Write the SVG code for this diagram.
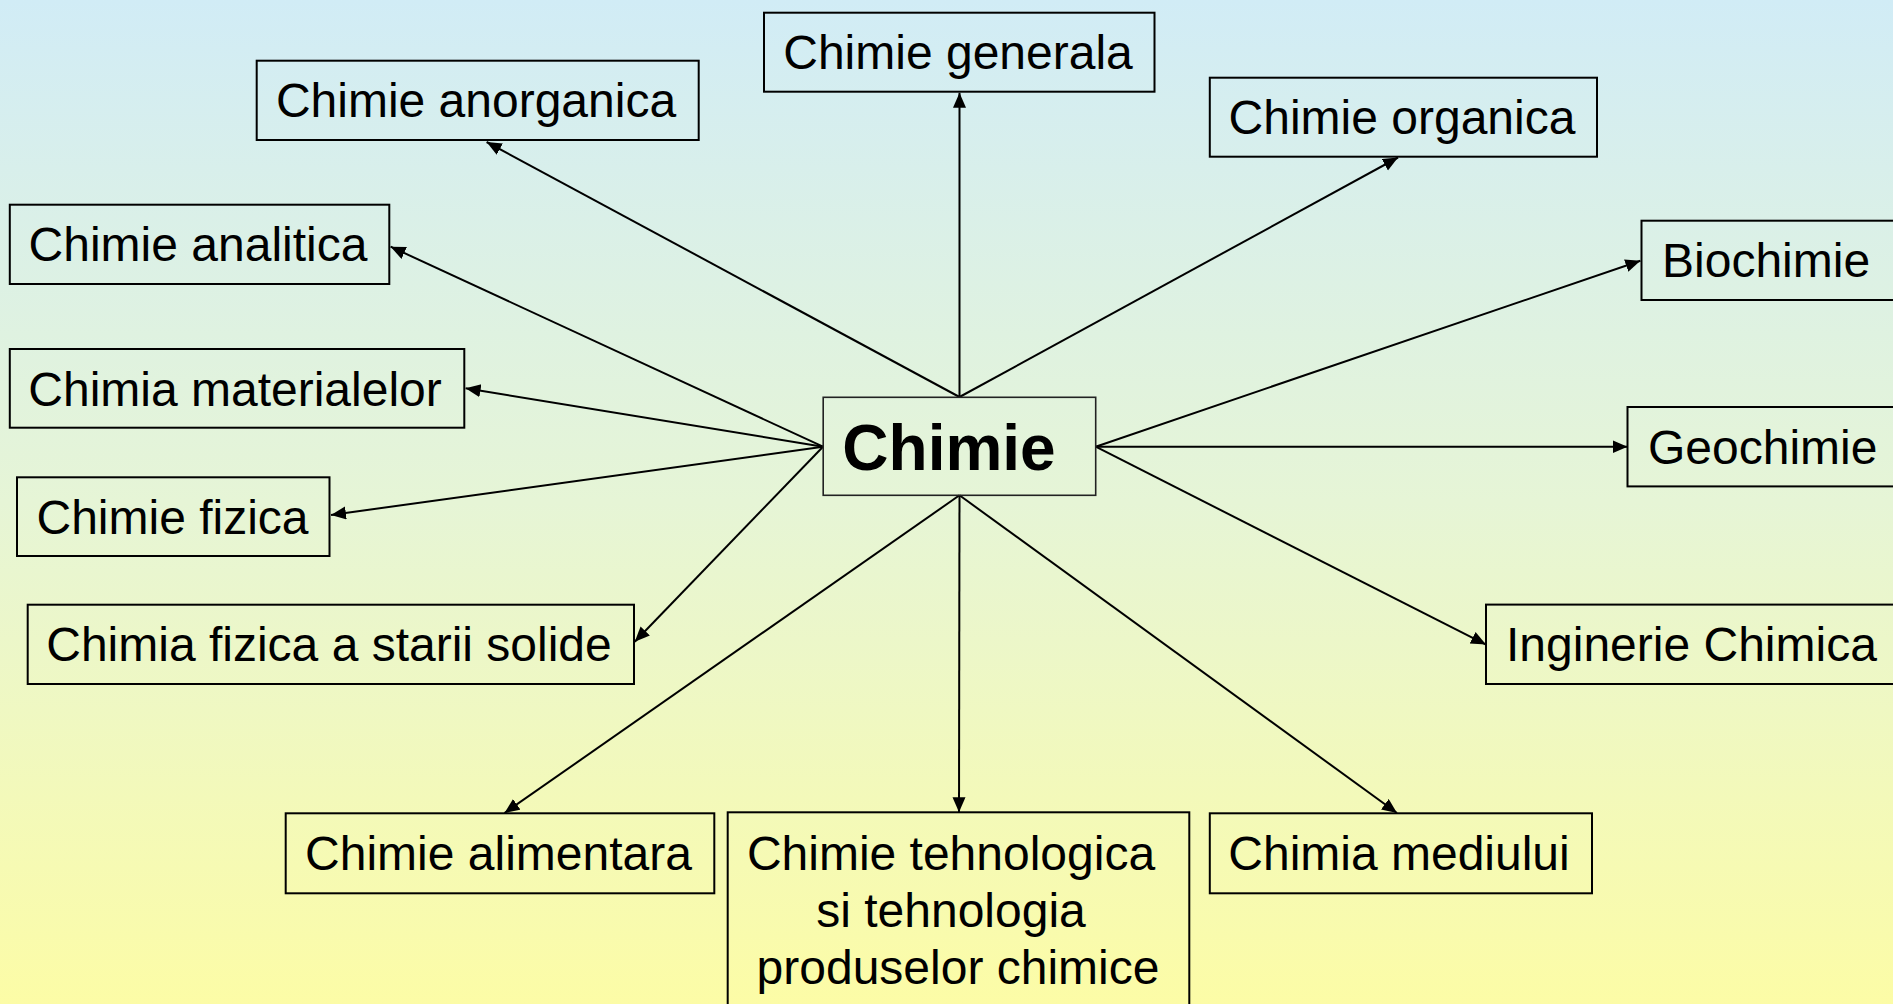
<svg xmlns="http://www.w3.org/2000/svg" width="1893" height="1004" viewBox="0 0 1893 1004">
  <defs>
    <linearGradient id="bg" x1="0" y1="0" x2="0" y2="1">
      <stop offset="0" stop-color="#d1ecf6"/>
      <stop offset="0.5" stop-color="#e6f5d6"/>
      <stop offset="1" stop-color="#fcfca6"/>
    </linearGradient>
    <marker id="arrow" markerUnits="userSpaceOnUse" markerWidth="16" markerHeight="14" refX="15" refY="6.5" orient="auto">
      <path d="M0,0 L15,6.5 L0,13 z" fill="#000"/>
    </marker>
  </defs>
  <style>
    .box { fill: none; stroke: #000; stroke-width: 2; }
    .hub { fill: none; stroke: #222; stroke-width: 1.6; }
    .lbl { font-family: "Liberation Sans", Arial, sans-serif; font-size: 48px; fill: #000; }
    .mid { text-anchor: middle; }
    .hubtxt { font-family: "Liberation Sans", Arial, sans-serif; font-size: 64px; font-weight: bold; fill: #000; text-anchor: middle; }
    .edge { stroke: #000; stroke-width: 2; fill: none; marker-end: url(#arrow); }
  </style>

  <rect x="0" y="0" width="1893" height="1004" fill="url(#bg)"/>

  <!-- connectors from the central node -->
  <g id="connectors">
    <line class="edge" x1="959.5" y1="397" x2="959.5" y2="92.7"/>
    <line class="edge" x1="959.5" y1="397" x2="486.6" y2="142"/>
    <line class="edge" x1="959.5" y1="397" x2="1398" y2="157.5"/>
    <line class="edge" x1="823" y1="446.7" x2="390.6" y2="246.7"/>
    <line class="edge" x1="823" y1="446.7" x2="465.6" y2="388.3"/>
    <line class="edge" x1="823" y1="446.7" x2="331" y2="515"/>
    <line class="edge" x1="823" y1="446.7" x2="634.8" y2="641.7"/>
    <line class="edge" x1="1095.7" y1="446.7" x2="1640.4" y2="260.7"/>
    <line class="edge" x1="1095.7" y1="446.7" x2="1627.5" y2="446.7"/>
    <line class="edge" x1="1095.7" y1="446.7" x2="1486" y2="644.6"/>
    <line class="edge" x1="959.5" y1="495.3" x2="504.5" y2="813"/>
    <line class="edge" x1="959.5" y1="495.3" x2="959" y2="812.3"/>
    <line class="edge" x1="959.5" y1="495.3" x2="1397" y2="813"/>
  </g>

  <g id="node-chimie">
    <rect class="hub" x="823.2" y="397.3" width="272.5" height="98"/>
    <text class="hubtxt" x="949" y="470">Chimie</text>
  </g>

  <g id="node-generala">
    <rect class="box" x="764" y="12.7" width="390.5" height="79"/>
    <text class="lbl mid" x="958" y="68.5">Chimie generala</text>
  </g>

  <g id="node-anorganica">
    <rect class="box" x="256.7" y="60.7" width="442" height="79.3"/>
    <text class="lbl mid" x="476" y="116.8">Chimie anorganica</text>
  </g>

  <g id="node-organica">
    <rect class="box" x="1209.8" y="77.7" width="387.2" height="79"/>
    <text class="lbl mid" x="1402" y="134">Chimie organica</text>
  </g>

  <g id="node-analitica">
    <rect class="box" x="9.8" y="204.7" width="379.5" height="79.3"/>
    <text class="lbl mid" x="198" y="261">Chimie analitica</text>
  </g>

  <g id="node-biochimie">
    <rect class="box" x="1641.5" y="220.7" width="270" height="79.3"/>
    <text class="lbl" x="1662" y="277">Biochimie</text>
  </g>

  <g id="node-materialelor">
    <rect class="box" x="9.8" y="349" width="454.5" height="78.7"/>
    <text class="lbl mid" x="235" y="405.5">Chimia materialelor</text>
  </g>

  <g id="node-geochimie">
    <rect class="box" x="1627.5" y="407" width="285" height="79.4"/>
    <text class="lbl" x="1648" y="463.6">Geochimie</text>
  </g>

  <g id="node-fizica">
    <rect class="box" x="17" y="477.3" width="312.5" height="78.7"/>
    <text class="lbl mid" x="172.5" y="533.5">Chimie fizica</text>
  </g>

  <g id="node-solide">
    <rect class="box" x="27.7" y="604.7" width="606.3" height="79.3"/>
    <text class="lbl mid" x="329" y="661.3">Chimia fizica a starii solide</text>
  </g>

  <g id="node-inginerie">
    <rect class="box" x="1486" y="604.6" width="426" height="79.4"/>
    <text class="lbl" x="1506" y="661.4">Inginerie Chimica</text>
  </g>

  <g id="node-alimentara">
    <rect class="box" x="285.7" y="813.3" width="428.6" height="80"/>
    <text class="lbl mid" x="498.5" y="870.3">Chimie alimentara</text>
  </g>

  <g id="node-tehnologica">
    <rect class="box" x="727.7" y="812.3" width="461.6" height="210"/>
    <text class="lbl mid" x="951" y="870">Chimie tehnologica</text>
    <text class="lbl mid" x="951" y="927">si tehnologia</text>
    <text class="lbl mid" x="958" y="984">produselor chimice</text>
  </g>

  <g id="node-mediului">
    <rect class="box" x="1209.8" y="813.3" width="382.2" height="80"/>
    <text class="lbl mid" x="1399" y="870.3">Chimia mediului</text>
  </g>
</svg>
